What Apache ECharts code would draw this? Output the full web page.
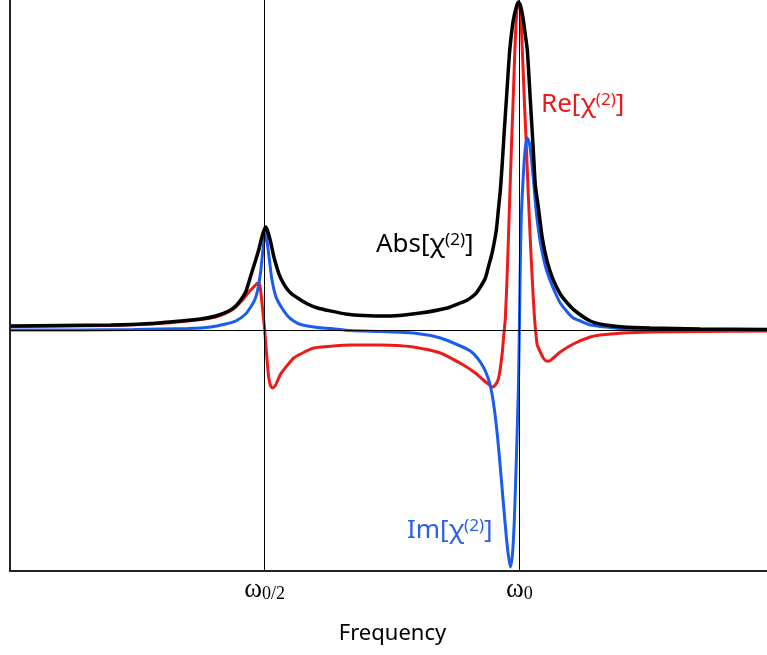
<!DOCTYPE html>
<html>
<head>
<meta charset="utf-8">
<title>Second-order susceptibility</title>
<script src="https://cdn.jsdelivr.net/npm/echarts@6/dist/echarts.min.js"></script>
<style>
  html, body { margin: 0; padding: 0; background: #ffffff; }
  #chart { width: 767px; height: 655px; }
</style>
</head>
<body>
<div id="chart"></div>
<script>
// Frequency in arbitrary units (omega0 = 510), response in arbitrary units.
const OMEGA0 = 510;
const tickValues = [OMEGA0 / 2, OMEGA0];

// |chi(2)|
const absFreq = [1, 51, 101, 141, 171, 191, 206, 219, 226, 231, 236, 241, 246, 249, 252, 254, 256, 258, 261, 264, 268, 271, 276, 281, 288, 298, 308, 321, 336, 354, 381, 411, 438, 451, 458, 466, 471, 476, 479, 482, 484, 487, 489, 491, 493, 495, 497, 500, 502, 504, 507, 509, 511, 514, 516, 518, 521, 524, 526, 529, 533, 538, 544, 551, 558, 566, 581, 596, 614, 641, 691, 758];
const absVal  = [4, 4.5, 5, 6.5, 9, 11, 14, 19, 24, 30, 38, 54, 70, 80, 92, 99, 103, 99, 88, 74, 60, 52, 43, 37, 32, 26, 22, 19, 16, 14.5, 14, 17, 22, 27, 30, 36, 43, 52, 63, 74, 83, 100, 120, 140, 168, 200, 230, 275, 295, 310, 323, 328, 325, 310, 295, 280, 230, 180, 145, 123, 92, 68, 50, 36, 27, 19, 9, 5, 3, 2, 1, 0.5];

// Re[chi(2)]
const reFreq = [1, 51, 101, 141, 178, 206, 219, 226, 231, 236, 241, 245, 248, 250, 252, 254, 255, 257, 259, 261, 263, 266, 271, 278, 284, 291, 304, 324, 341, 371, 404, 431, 454, 466, 474, 479, 483, 486, 489, 491, 493, 494, 496, 498, 500, 502, 504, 506, 508, 509, 511, 513, 515, 517, 519, 521, 523, 525, 527, 528, 531, 534, 537, 540, 544, 551, 564, 581, 591, 614, 641, 691, 758];
const reVal  = [3.5, 4, 4.5, 6, 9, 13, 18, 23, 28, 34, 40, 44, 47, 46, 30, 10, 0, -25, -47, -56, -58, -55, -44, -35, -28, -24, -18, -16, -15, -15, -17, -23, -35, -43, -50, -54, -57, -55, -49, -38, -22, -10, 12, 60, 120, 180, 235, 292, 324, 326, 322, 280, 230, 185, 135, 90, 50, 15, -8, -15, -22, -28, -31, -31, -28, -22, -14, -7, -5, -3, -2, -1.5, -1];

// Im[chi(2)]
const imFreq = [1, 71, 124, 178, 201, 216, 226, 236, 241, 245, 248, 251, 253, 255, 256, 258, 260, 262, 266, 271, 278, 284, 291, 308, 321, 341, 371, 404, 431, 451, 461, 468, 474, 478, 481, 484, 488, 491, 494, 497, 499, 501, 503, 505, 507, 509, 510, 511, 512, 514, 516, 518, 520, 522, 524, 527, 531, 536, 541, 547, 551, 558, 564, 571, 581, 601, 614, 664, 758];
const imVal  = [0, 0, 0.5, 1.5, 3, 6, 9, 16, 23, 30, 40, 58, 78, 94, 100, 84, 68, 52, 34, 24, 14, 9, 5.5, 2.5, 1.5, -0.5, -1.5, -3, -8, -16, -21, -28, -37, -46, -56, -72, -105, -138, -173, -207, -225, -237, -226, -190, -130, -60, 0, 68, 115, 155, 182, 192, 187, 172, 152, 118, 88, 64, 49, 35, 27, 18, 12, 9, 5, 2.5, 1, 0, -0.5];

function pairs(xs, ys) {
  return xs.map((x, i) => [x, ys[i]]);
}

const RED = '#ee1a1a';
const BLUE = '#1a5cf0';
const LABEL_FONT = '"Noto Sans", "Open Sans", sans-serif';
const SERIF = '"Liberation Serif", "DejaVu Serif", serif';

const chart = echarts.init(document.getElementById('chart'), null, { renderer: 'canvas' });

function curveLabel(x, y, name, color) {
  return {
    type: 'text',
    left: x,
    top: y,
    silent: true,
    style: {
      text: '{m|' + name + '[χ}{s|(2)}{m|]}',
      rich: {
        m: { fontSize: 26, fontFamily: LABEL_FONT, fill: color, lineHeight: 30, verticalAlign: 'top' },
        s: { fontSize: 17, fontFamily: LABEL_FONT, fill: color, lineHeight: 20, verticalAlign: 'top' }
      }
    }
  };
}

const lineCommon = { type: 'line', showSymbol: false, smooth: 0.2 };

chart.setOption({
  animation: false,
  backgroundColor: '#ffffff',
  grid: { left: 10, right: 0, top: 0, bottom: 84, containLabel: false },
  xAxis: {
    type: 'value',
    min: 0,
    max: 758,
    name: 'Frequency',
    nameLocation: 'middle',
    nameGap: 52,
    nameTextStyle: { fontSize: 22, fontFamily: LABEL_FONT, color: '#000000', padding: [0, 0, 0, 8] },
    axisLine: { show: true, onZero: false, lineStyle: { color: '#222222', width: 2 } },
    axisTick: { show: false },
    splitLine: { show: false },
    axisLabel: {
      customValues: tickValues,
      margin: 4,
      formatter: function (v) {
        return v === OMEGA0 ? '{w|ω}{s|0}' : '{w|ω}{s|0/2}';
      },
      rich: {
        w: { fontSize: 27, fontFamily: SERIF, color: '#000', lineHeight: 28, verticalAlign: 'bottom' },
        s: { fontSize: 18, fontFamily: SERIF, color: '#000', lineHeight: 15, verticalAlign: 'bottom' }
      }
    }
  },
  yAxis: {
    type: 'value',
    min: -241,
    max: 330,
    axisLine: { show: true, onZero: false, lineStyle: { color: '#222222', width: 2 } },
    axisTick: { show: false },
    axisLabel: { show: false },
    splitLine: { show: false }
  },
  series: [
    Object.assign({}, lineCommon, {
      name: 'Re',
      data: pairs(reFreq, reVal),
      lineStyle: { color: RED, width: 3 },
      z: 3,
      markLine: {
        silent: true,
        symbol: 'none',
        label: { show: false },
        lineStyle: { color: '#000000', width: 1, type: 'solid' },
        data: [{ xAxis: tickValues[0] }, { xAxis: tickValues[1] }, { yAxis: 0 }]
      }
    }),
    Object.assign({}, lineCommon, {
      name: 'Im',
      data: pairs(imFreq, imVal),
      lineStyle: { color: BLUE, width: 3 },
      z: 4
    }),
    Object.assign({}, lineCommon, {
      name: 'Abs',
      data: pairs(absFreq, absVal),
      lineStyle: { color: '#000000', width: 3.5 },
      z: 5
    })
  ],
  graphic: [
    curveLabel(541, 92, 'Re', RED),
    curveLabel(376, 232, 'Abs', '#000000'),
    curveLabel(407, 518, 'Im', '#2b5fe6')
  ]
});
</script>
</body>
</html>
